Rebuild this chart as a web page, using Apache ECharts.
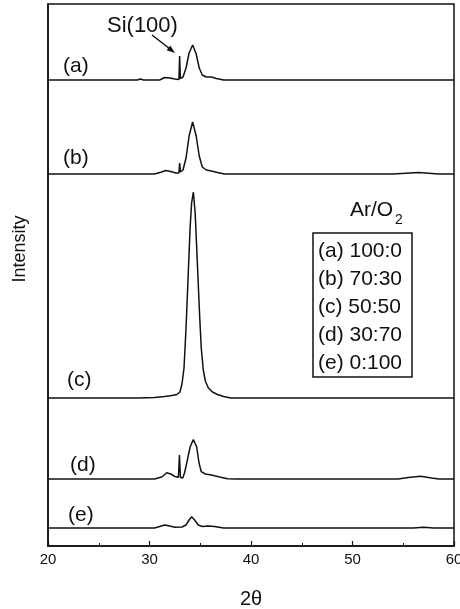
<!DOCTYPE html>
<html>
<head>
<meta charset="utf-8">
<script src="https://cdn.jsdelivr.net/npm/echarts@6/dist/echarts.min.js"></script>
<style>
  html, body { margin: 0; padding: 0; background: #fff; }
  #chart { width: 460px; height: 609px; }
</style>
</head>
<body>
<div id="chart"></div>
<script>
'use strict';

// curve names and legend text
var names = ['(a)', '(b)', '(c)', '(d)', '(e)'];
var ratios = ['100:0', '70:30', '50:50', '30:70', '0:100'];

// vertical offset of each trace (stacked plot)
var offsets = [466, 372, 148, 67, 18];

// [2theta, intensity above its own baseline]
var traceA = [
  [20, 0], [28.8, 0], [29.1, 1], [29.4, 0], [31, 0], [31.5, 2.5], [32, 2], [32.5, 1],
  [32.9, 0.5], [32.97, 24], [33.04, 1.5], [33.3, 3], [33.6, 12], [33.9, 27], [34.25, 35],
  [34.6, 26], [34.9, 12], [35.2, 5], [35.6, 3], [36.1, 3], [36.6, 1.5], [37.3, 0], [60, 0]
];
var traceB = [
  [20, 0], [30.5, 0], [31.2, 2], [31.6, 3.5], [32.1, 2.5], [32.6, 1], [32.9, 1],
  [32.97, 11], [33.05, 2], [33.3, 4], [33.6, 16], [33.9, 38], [34.25, 52], [34.6, 38],
  [34.9, 18], [35.2, 7], [35.6, 4], [36.1, 3], [36.7, 1.5], [37.4, 0], [54, 0],
  [56.5, 1.5], [58.5, 0], [60, 0]
];
var traceC = [
  [20, 0], [29, 0], [30.5, 0.5], [31.5, 1.5], [32.2, 2.5], [32.7, 3.5], [33.0, 6],
  [33.2, 14], [33.4, 30], [33.6, 70], [33.8, 120], [34.0, 170], [34.15, 195], [34.32, 206],
  [34.5, 185], [34.65, 150], [34.8, 115], [34.95, 80], [35.1, 50], [35.3, 28], [35.5, 17],
  [35.8, 10], [36.2, 6], [36.7, 3.5], [37.3, 1.5], [38, 0], [60, 0]
];
var traceD = [
  [20, 0], [30.5, 0], [31.2, 2], [31.7, 6.3], [32.1, 5], [32.5, 2.5], [32.85, 1.7],
  [32.95, 24], [33.05, 1.5], [33.27, 1], [33.45, 6], [33.66, 15.7], [34.0, 32], [34.32, 39.5],
  [34.65, 32], [34.88, 16], [35.1, 7.3], [35.5, 5], [36.1, 4], [36.9, 2], [37.7, 0.3],
  [38.5, 0], [54.5, 0], [55.5, 1.5], [56.7, 2.7], [57.8, 1], [58.5, 0], [60, 0]
];
var traceE = [
  [20, 0], [30.5, 0], [31.0, 1.5], [31.5, 3], [32.0, 2], [32.5, 0.8], [33.2, 1],
  [33.6, 3], [33.9, 8], [34.15, 11.3], [34.45, 8], [34.8, 3], [35.2, 1.5], [35.8, 2],
  [36.4, 1.5], [37.3, 0], [56, 0], [57, 0.8], [58, 0], [60, 0]
];
var traces = [traceA, traceB, traceC, traceD, traceE];

var font = '"Liberation Sans", Arial, sans-serif';

var chart = echarts.init(document.getElementById('chart'), null, { renderer: 'canvas' });

var series = traces.map(function (t, i) {
  return {
    name: names[i],
    type: 'line',
    showSymbol: false,
    silent: true,
    animation: false,
    lineStyle: { color: '#111', width: 1.5 },
    data: t.map(function (p) { return [p[0], p[1] + offsets[i]]; })
  };
});

// text drawn on the plot: curve names, Si label, legend box
var graphics = [];
var labelPos = [[63, 68], [63, 160], [67, 382], [70, 467], [68, 517]];
names.forEach(function (n, i) {
  graphics.push({
    type: 'text', left: labelPos[i][0], top: labelPos[i][1] - 12,
    style: { text: n, font: '21px ' + font, fill: '#111' }
  });
});
graphics.push({
  type: 'text', left: 107, top: 15,
  style: { text: 'Si(100)', font: '22px ' + font, fill: '#111' }
});
graphics.push({
  type: 'line', shape: { x1: 152, y1: 35, x2: 170, y2: 49 },
  style: { stroke: '#111', lineWidth: 1.5 }
});
graphics.push({
  type: 'polygon', shape: { points: [[175, 53], [166.7, 50.3], [170.3, 45.5]] },
  style: { fill: '#111' }
});
graphics.push({
  type: 'text', left: 350, top: 200,
  style: { text: 'Ar/O', font: '21px ' + font, fill: '#111' }
});
graphics.push({
  type: 'text', left: 395, top: 213,
  style: { text: '2', font: '14px ' + font, fill: '#111' }
});
graphics.push({
  type: 'rect', shape: { x: 313, y: 233, width: 99, height: 144 },
  style: { fill: 'none', stroke: '#111', lineWidth: 1.5 }
});
ratios.forEach(function (r, i) {
  graphics.push({
    type: 'text', left: 318, top: 253 + i * 28 - 12,
    style: { text: names[i] + ' ' + r, font: '21px ' + font, fill: '#111' }
  });
});
graphics.push({
  type: 'text', x: 20, y: 249, rotation: Math.PI / 2,
  style: { text: 'Intensity', font: '18px ' + font, fill: '#111', align: 'center', verticalAlign: 'middle' }
});

var option = {
  backgroundColor: '#fff',
  animation: false,
  grid: {
    left: 48, right: 6, top: 4, bottom: 63,
    outerBoundsMode: 'none', containLabel: false,
    show: true, borderColor: '#111', borderWidth: 1.5, backgroundColor: 'transparent'
  },
  xAxis: {
    type: 'value', min: 20, max: 60, interval: 10,
    name: '2θ', nameLocation: 'middle', nameGap: 43,
    nameTextStyle: { fontFamily: font, fontSize: 20, color: '#111' },
    axisLine: { lineStyle: { color: '#111', width: 1.5 } },
    axisTick: { inside: true, length: 5, lineStyle: { color: '#111', width: 1.2 } },
    minorTick: { show: true, splitNumber: 2, length: 3, lineStyle: { color: '#111', width: 1 } },
    axisLabel: { fontFamily: font, fontSize: 15, color: '#111', margin: 6 },
    splitLine: { show: false }
  },
  yAxis: {
    type: 'value', min: 0, max: 542,
    axisLine: { show: true, lineStyle: { color: '#111', width: 1.5 } },
    axisTick: { show: false },
    axisLabel: { show: false },
    splitLine: { show: false }
  },
  series: series,
  graphic: graphics
};

chart.setOption(option);
</script>
</body>
</html>
